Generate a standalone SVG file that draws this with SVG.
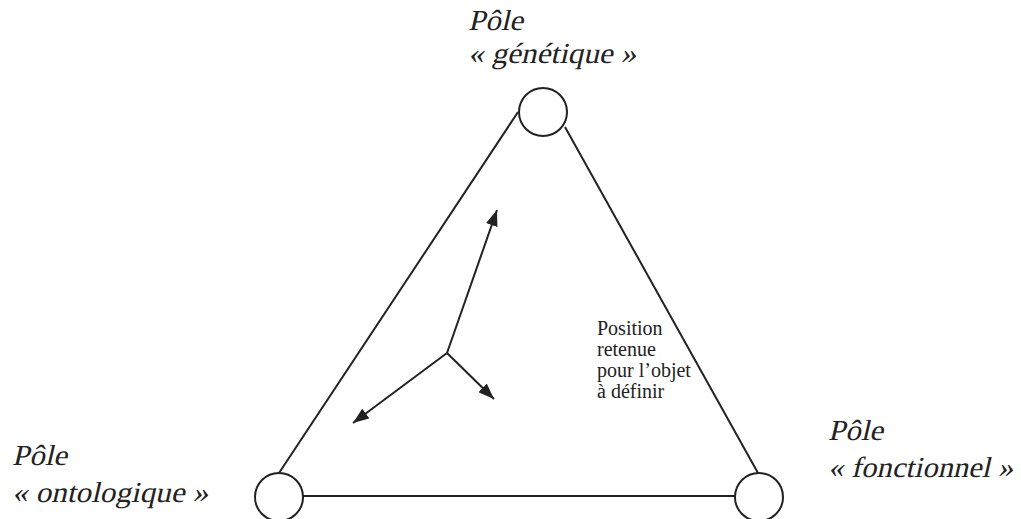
<svg xmlns="http://www.w3.org/2000/svg" width="1021" height="519" viewBox="0 0 1021 519">
<defs>
<style>
.pole{font-family:'Liberation Serif','DejaVu Serif',serif;font-size:29px;fill:#222}
.lbl{font-family:'Liberation Serif','DejaVu Serif',serif;font-size:20px;fill:#222}
.edge{stroke:#222;stroke-width:2;fill:none}
.node{stroke:#222;stroke-width:2;fill:#fff}
</style>
<marker id="ahl" viewBox="0 0 16 12" refX="16" refY="6" markerWidth="16" markerHeight="12" markerUnits="userSpaceOnUse" orient="auto"><path d="M0,0 L16,6 L0,12 Z" fill="#222"/></marker>
</defs>
<g id="connectors">
<line class="edge" x1="518" y1="112" x2="279" y2="473"/>
<line class="edge" x1="565" y1="127" x2="758" y2="473"/>
<line class="edge" x1="303" y1="496" x2="735" y2="496"/>
<line class="edge" x1="447" y1="353" x2="497" y2="210" marker-end="url(#ahl)"/>
<line class="edge" x1="447" y1="353" x2="353" y2="423" marker-end="url(#ahl)"/>
<line class="edge" x1="447" y1="353" x2="494" y2="399" marker-end="url(#ahl)"/>
</g>
<g id="pole-genetique">
<circle class="node" cx="543" cy="112" r="24"/>
<g transform="translate(468,30) skewX(-13)"><text class="pole" x="0" y="0" textLength="55" lengthAdjust="spacingAndGlyphs">Pôle</text></g>
<g transform="translate(468,63) skewX(-13)"><text class="pole" x="0" y="0" textLength="168" lengthAdjust="spacingAndGlyphs">« génétique »</text></g>
</g>
<g id="pole-ontologique">
<circle class="node" cx="279" cy="497" r="24"/>
<g transform="translate(12,465) skewX(-13)"><text class="pole" x="0" y="0" textLength="55" lengthAdjust="spacingAndGlyphs">Pôle</text></g>
<g transform="translate(12,502) skewX(-13)"><text class="pole" x="0" y="0" textLength="196" lengthAdjust="spacingAndGlyphs">« ontologique »</text></g>
</g>
<g id="pole-fonctionnel">
<circle class="node" cx="759" cy="497" r="24"/>
<g transform="translate(828,440) skewX(-13)"><text class="pole" x="0" y="0" textLength="55" lengthAdjust="spacingAndGlyphs">Pôle</text></g>
<g transform="translate(828,477) skewX(-13)"><text class="pole" x="0" y="0" textLength="185" lengthAdjust="spacingAndGlyphs">« fonctionnel »</text></g>
</g>
<g id="position">
<text class="lbl" x="597" y="335">Position</text>
<text class="lbl" x="597" y="356">retenue</text>
<text class="lbl" x="597" y="377">pour l’objet</text>
<text class="lbl" x="597" y="398">à définir</text>
</g>
</svg>
